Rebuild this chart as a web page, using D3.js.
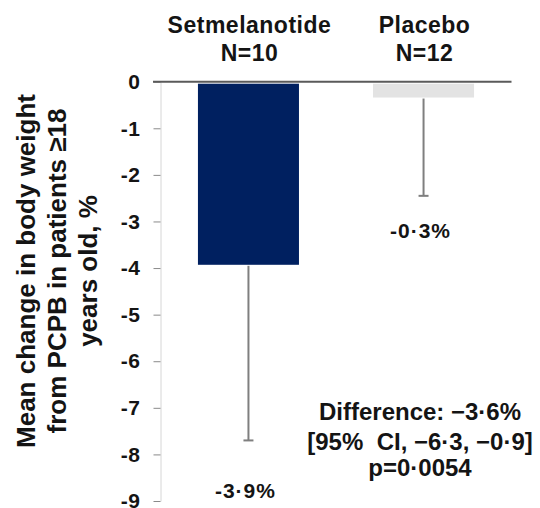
<!DOCTYPE html>
<html>
<head>
<meta charset="utf-8">
<script src="https://d3js.org/d3.v7.min.js"></script>
<style>
  body { margin: 0; background: #fff; }
  text { font-family: "Liberation Sans", Arial, sans-serif; font-weight: bold; fill: #141414; }
</style>
</head>
<body>
<div id="chart"></div>
<script>
// data
const groups = ['Setmelanotide', 'Placebo'];
const groupN = ['N=10', 'N=12'];
const meanChange = [-3.93, -0.34];
const ciLower = [-7.70, -2.45];
const valueLabels = ['-3·9%', '-0·3%'];
const yTicks = [0, -1, -2, -3, -4, -5, -6, -7, -8, -9];
const titleLines = ['Mean change in body weight', 'from PCPB in patients ≥18', 'years old, %'];
const diffLines = ['Difference: −3·6%', '[95%  CI, −6·3, −0·9]', 'p=0·0054'];

const width = 540, height = 508;
const colors = ['#002060', '#e3e3e3'];

const svg = d3.select('#chart').append('svg')
  .attr('width', width)
  .attr('height', height);

const x = d3.scaleBand()
  .domain(groups)
  .range([161, 511])
  .paddingInner(0.423)
  .paddingOuter(0.211);

const y = d3.scaleLinear()
  .domain([0, -9])
  .range([81.7, 501]);

// y axis
const yAxis = svg.append('g')
  .attr('transform', 'translate(160.5,0)')
  .call(d3.axisLeft(y)
    .tickValues(yTicks)
    .tickSize(7)
    .tickSizeOuter(0)
    .tickPadding(13)
    .tickFormat(d => String(d)));
yAxis.select('.domain').attr('stroke', '#d6d6d6').attr('stroke-width', 1);
yAxis.selectAll('.tick line').attr('stroke', '#8a8a8a').attr('stroke-width', 1);
yAxis.selectAll('.tick text')
  .attr('fill', '#141414')
  .style('font-size', '21px')
  .style('font-weight', 'bold')
  .style('letter-spacing', '0.5px')
  .style('font-family', '"Liberation Sans", Arial, sans-serif');

// bars (start just under the zero line)
svg.selectAll('.bar')
  .data(groups)
  .enter().append('rect')
  .attr('class', 'bar')
  .attr('x', d => x(d))
  .attr('y', y(0) + 2)
  .attr('width', x.bandwidth())
  .attr('height', (d, i) => y(meanChange[i]) - y(0) - 2)
  .attr('fill', (d, i) => colors[i]);

// lower error whiskers
const err = svg.selectAll('.err')
  .data(groups)
  .enter().append('g')
  .attr('class', 'err')
  .attr('stroke', '#7f7f7f')
  .attr('stroke-width', 2);
err.append('line')
  .attr('x1', d => x(d) + x.bandwidth() / 2)
  .attr('x2', d => x(d) + x.bandwidth() / 2)
  .attr('y1', (d, i) => y(meanChange[i]) + 1)
  .attr('y2', (d, i) => y(ciLower[i]));
err.append('line')
  .attr('x1', d => x(d) + x.bandwidth() / 2 - 5)
  .attr('x2', d => x(d) + x.bandwidth() / 2 + 5)
  .attr('y1', (d, i) => y(ciLower[i]))
  .attr('y2', (d, i) => y(ciLower[i]));

// zero line
svg.append('line')
  .attr('x1', 153)
  .attr('x2', 511.5)
  .attr('y1', y(0))
  .attr('y2', y(0))
  .attr('stroke', '#5a5a5a')
  .attr('stroke-width', 2);

// group headers
const head = svg.selectAll('.head')
  .data(groups)
  .enter().append('text')
  .attr('class', 'head')
  .attr('text-anchor', 'middle')
  .attr('font-size', 23)
  .attr('letter-spacing', '0.5px');
head.append('tspan')
  .attr('x', d => x(d) + x.bandwidth() / 2 + 1)
  .attr('y', 32.5)
  .text(d => d);
head.append('tspan')
  .attr('x', d => x(d) + x.bandwidth() / 2 + 1)
  .attr('y', 61)
  .text((d, i) => groupN[i]);

// value labels under the whiskers
const labelAt = [-8.93, -3.36];
svg.selectAll('.vlab')
  .data(groups)
  .enter().append('text')
  .attr('class', 'vlab')
  .attr('text-anchor', 'middle')
  .attr('font-size', 21)
  .attr('letter-spacing', '1px')
  .attr('x', d => x(d) + x.bandwidth() / 2 - 3)
  .attr('y', (d, i) => y(labelAt[i]))
  .text((d, i) => valueLabels[i]);

// y axis title
svg.append('g')
  .attr('transform', 'translate(0,271) rotate(-90)')
  .selectAll('text')
  .data(titleLines)
  .enter().append('text')
  .attr('text-anchor', 'middle')
  .attr('font-size', 26)
  .attr('x', 0)
  .attr('y', (d, i) => 35 + i * 31)
  .text(d => d);

// difference annotation
svg.append('g')
  .selectAll('text')
  .data(diffLines)
  .enter().append('text')
  .attr('text-anchor', 'middle')
  .attr('font-size', 24)
  .attr('xml:space', 'preserve')
  .style('white-space', 'pre')
  .attr('x', 420)
  .attr('y', (d, i) => [420, 450, 476][i])
  .text(d => d);
</script>
</body>
</html>
